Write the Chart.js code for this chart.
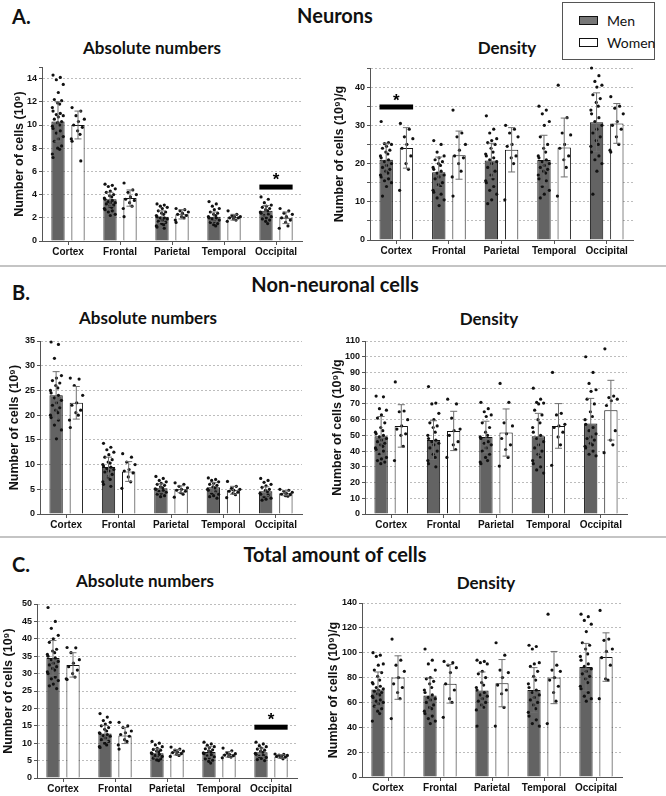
<!DOCTYPE html>
<html>
<head>
<meta charset="utf-8">
<script src="https://cdn.jsdelivr.net/npm/chart.js@4.4.1/dist/chart.umd.min.js"></script>
<style>
  body { margin: 0; width: 666px; height: 796px; position: relative; background: #fff; overflow: hidden; font-family: 'Liberation Sans', Arial, sans-serif; }
  .t { position: absolute; font-family: Lato, 'Open Sans', sans-serif; font-weight: 700; color: #111; white-space: nowrap; transform: translate(-50%, -50%); }
  .lbl { position: absolute; font-family: Lato, 'Open Sans', sans-serif; font-weight: 700; font-size: 20px; color: #111; transform: translateY(-50%); }
  .sep { position: absolute; left: 0; width: 666px; height: 2px; background: #c4c4c4; }
  canvas { position: absolute; }
  #legend { position: absolute; left: 562px; top: 2px; width: 93px; height: 58px; border: 1px solid #555; box-sizing: border-box; font-family: Lato, 'Open Sans', sans-serif; font-size: 14px; color: #111; }
  #legend .row { position: absolute; left: 16px; display: flex; align-items: center; }
  #legend .sw { width: 17px; height: 7px; border: 1.5px solid #111; margin-right: 9px; }
</style>
</head>
<body>

<div class="lbl" style="left:12px;top:16px">A.</div>
<div class="t" style="left:335px;top:15px;font-size:20px">Neurons</div>
<div class="t" style="left:152px;top:47px;font-size:17px">Absolute numbers</div>
<div class="t" style="left:507px;top:47px;font-size:17px">Density</div>

<div class="sep" style="top:265px"></div>

<div class="lbl" style="left:12px;top:292px">B.</div>
<div class="t" style="left:335px;top:284px;font-size:20px">Non-neuronal cells</div>
<div class="t" style="left:148px;top:317px;font-size:17px">Absolute numbers</div>
<div class="t" style="left:489px;top:318px;font-size:17px">Density</div>

<div class="sep" style="top:536px"></div>

<div class="lbl" style="left:12px;top:564px">C.</div>
<div class="t" style="left:335px;top:554px;font-size:20px">Total amount of cells</div>
<div class="t" style="left:145px;top:580px;font-size:17px">Absolute numbers</div>
<div class="t" style="left:486px;top:582px;font-size:17px">Density</div>

<div id="legend">
  <div class="row" style="top:9px"><div class="sw" style="background:#777"></div>Men</div>
  <div class="row" style="top:31px"><div class="sw" style="background:#fff"></div>Women</div>
</div>

<canvas id="aL" width="302" height="200" style="left:4px;top:59px"></canvas>
<canvas id="aR" width="305" height="198" style="left:332px;top:60px"></canvas>
<canvas id="bL" width="304" height="199" style="left:2px;top:333px"></canvas>
<canvas id="bR" width="304" height="199" style="left:327px;top:333px"></canvas>
<canvas id="cL" width="301" height="200" style="left:0px;top:596px"></canvas>
<canvas id="cR" width="301" height="200" style="left:325px;top:595px"></canvas>

<script>
// Regions (x axis categories)
const categories = ['Cortex', 'Frontal', 'Parietal', 'Temporal', 'Occipital'];

// ---- A. Neurons, absolute numbers (10^9) ----
const neuAbsMen = [10.3, 3.6, 2.1, 2.1, 2.6];
const neuAbsMenSd = [1.7, 0.6, 0.5, 0.4, 0.45];
const neuAbsWomen = [10.0, 3.7, 2.3, 2.05, 2.0];
const neuAbsWomenSd = [1.2, 0.7, 0.4, 0.25, 0.5];
const neuAbsMenDots = [
  [14.3, 14.1, 13.9, 13.5, 12.8, 12.2, 12.1, 11.9, 11.8, 11.5, 11.2, 11.0, 10.9, 10.8, 10.7, 10.5, 10.3, 10.2, 10.0, 9.9, 9.7, 9.5, 9.3, 9.0, 8.8, 8.6, 8.2, 8.0, 7.9, 7.5, 7.2],
  [4.9, 4.8, 4.7, 4.5, 4.3, 4.2, 4.0, 3.9, 3.8, 3.7, 3.6, 3.5, 3.4, 3.3, 3.3, 3.2, 3.1, 3.0, 2.9, 2.8, 2.7, 2.6, 2.5, 2.3, 2.2],
  [3.2, 3.1, 3.0, 2.9, 2.8, 2.6, 2.5, 2.4, 2.3, 2.2, 2.1, 2.0, 2.0, 1.9, 1.8, 1.7, 1.6, 1.5, 1.4, 1.3, 1.2, 1.1],
  [3.4, 3.2, 3.0, 2.8, 2.7, 2.5, 2.4, 2.3, 2.2, 2.1, 2.0, 2.0, 1.9, 1.8, 1.7, 1.6, 1.5, 1.4, 1.3],
  [3.8, 3.6, 3.3, 3.1, 3.0, 2.9, 2.8, 2.7, 2.6, 2.5, 2.4, 2.3, 2.2, 2.1, 2.0, 1.9, 1.8, 1.7, 1.5]
];
const neuAbsWomenDots = [
  [11.5, 11.2, 10.8, 10.5, 10.3, 10.0, 9.8, 9.5, 9.2, 8.8, 8.6, 6.9],
  [5.0, 4.4, 4.2, 4.0, 3.8, 3.6, 3.5, 3.3, 3.0, 2.8, 2.1],
  [2.8, 2.7, 2.6, 2.5, 2.4, 2.3, 2.2, 2.1, 2.0, 1.8, 1.6],
  [2.6, 2.3, 2.2, 2.1, 2.1, 2.0, 2.0, 1.9, 1.8, 1.7],
  [2.8, 2.6, 2.4, 2.3, 2.1, 2.0, 1.8, 1.6, 1.3, 1.1]
];
const neuAbsSig = [{ cat: 4, bar: 4.65, star: 5.5 }];

// ---- A. Neurons, density (10^9/g) ----
const neuDenMen = [21.0, 17.7, 20.8, 20.9, 30.8];
const neuDenMenSd = [4.3, 4.0, 4.5, 6.5, 7.7];
const neuDenWomen = [24.1, 22.2, 23.6, 24.2, 30.5];
const neuDenWomenSd = [5.3, 6.3, 5.8, 7.7, 5.2];
const neuDenMenDots = [
  [31, 25.5, 25.2, 25, 24.5, 24, 23.5, 23, 22.5, 22, 21.5, 21, 20.5, 20, 19.5, 19, 18.5, 18, 17.5, 17, 16.5, 16, 15.5, 15, 14, 11.5],
  [26, 25, 23, 22, 21.5, 21, 20.5, 20, 19.5, 19, 18.5, 18, 17.5, 17, 16.5, 16, 15, 14.5, 14, 13, 12.5, 12, 11, 10.5, 9],
  [32.5, 29, 28, 26.5, 26, 25.5, 25, 24, 23, 22.5, 22, 21.5, 21, 20.5, 20, 19, 18, 17, 16, 15.5, 15, 14, 13, 12, 10.5, 9.5],
  [35, 34, 33, 31, 30, 27, 25, 24, 23, 22, 21.5, 21, 20.5, 20, 19.5, 19, 18.5, 18, 17.5, 17, 16, 15.5, 14, 13, 12, 11],
  [45, 43, 41.5, 40.5, 40, 38, 37, 36, 35, 34, 33, 32, 31, 30, 29, 28, 27, 26, 25, 24.5, 23, 22, 21, 20, 18, 12]
];
const neuDenWomenDots = [
  [30.5, 29, 27, 26.5, 25, 24, 22, 20, 18.5, 13],
  [34, 28, 27, 25, 23.5, 22, 21.5, 20, 18, 16.5, 11.5],
  [30, 29, 28, 27, 25, 24.5, 22, 21.5, 20, 10.5],
  [40.5, 32, 28, 27.5, 25, 24, 22, 21, 19, 11.5],
  [37.5, 35, 34.5, 33, 31, 30, 29, 27, 25, 23.5, 23]
];
const neuDenSig = [{ cat: 0, bar: 34.8, star: 37.2 }];

// ---- B. Non-neuronal cells, absolute numbers (10^9) ----
const nonAbsMen = [24.0, 9.5, 5.2, 5.4, 4.6];
const nonAbsMenSd = [4.8, 2.0, 0.9, 1.0, 0.9];
const nonAbsWomen = [22.5, 8.6, 5.0, 4.8, 4.2];
const nonAbsWomenSd = [3.3, 2.0, 0.7, 0.8, 0.5];
const nonAbsMenDots = [
  [34.8, 34.3, 31.5, 28, 27.5, 27, 26.5, 26, 25.5, 25, 24.5, 24, 23.5, 23, 22.5, 22, 21.5, 21, 20.5, 20, 19.5, 19, 18, 17, 15.2],
  [14.3, 13.5, 13, 12.5, 12, 11.5, 11, 10.5, 10.3, 10, 9.7, 9.5, 9.2, 9, 8.7, 8.5, 8, 7.5, 7, 6.5, 6, 5.6],
  [7.6, 7.2, 6.8, 6.5, 6.2, 6.0, 5.8, 5.5, 5.3, 5.1, 5.0, 4.8, 4.6, 4.4, 4.2, 4.0, 3.7, 3.5],
  [7.3, 7.0, 6.8, 6.5, 6.2, 6.0, 5.8, 5.5, 5.3, 5.0, 4.8, 4.5, 4.2, 4.0, 3.7, 3.5, 3.2],
  [7.2, 6.8, 6.4, 6.0, 5.7, 5.4, 5.0, 4.8, 4.5, 4.2, 4.0, 3.8, 3.5, 3.2, 3.0, 2.8]
];
const nonAbsWomenDots = [
  [27.5, 27.3, 26, 24, 22.5, 22, 21, 20.5, 20, 19, 17.5],
  [12.2, 11.5, 10.5, 10, 9, 8.7, 8.3, 7.5, 6.5, 5.2],
  [6.3, 6.0, 5.6, 5.3, 5.0, 4.8, 4.6, 4.3, 4.0, 3.4],
  [6.6, 5.6, 5.2, 5.0, 4.8, 4.6, 4.4, 4.2, 3.9, 3.3],
  [5.0, 4.8, 4.6, 4.4, 4.2, 4.0, 3.9, 3.7, 3.6]
];

// ---- B. Non-neuronal cells, density (10^9/g) ----
const nonDenMen = [49.5, 47, 49, 49.5, 57.5];
const nonDenMenSd = [12.5, 12.3, 10, 14.5, 16];
const nonDenWomen = [56, 52.8, 51.8, 56, 66];
const nonDenWomenSd = [13.5, 12.5, 15, 14.2, 19];
const nonDenMenDots = [
  [75, 74.5, 67, 66, 63, 61, 58, 55, 53, 52, 51, 50, 49, 48, 47, 46, 45, 44, 43, 42, 41, 40, 38, 36, 35, 34, 33, 32],
  [81, 70.5, 70, 64, 60, 58, 56, 55, 52, 50, 48, 47, 46, 45, 44, 42, 40, 38, 36, 34, 32, 30],
  [71, 67, 65, 63, 62, 58, 55, 52, 50, 49, 48, 46, 45, 44, 42, 40, 38, 36, 34, 33, 32],
  [80, 73, 71, 70.5, 70, 66, 63, 60, 58, 55, 52, 50, 48, 46, 44, 42, 40, 38, 36, 34, 32, 30, 28, 26],
  [100, 90, 83, 79, 78, 73, 70, 65, 62, 60, 57, 55, 53, 51, 49, 48, 47, 45, 44, 43, 42, 40, 38, 37]
];
const nonDenWomenDots = [
  [84, 65.5, 65, 60, 56, 54, 51, 50, 43, 34],
  [73, 70, 61, 54, 53, 50, 46, 44, 41, 36],
  [83, 71, 58, 56, 51, 48, 44, 41, 36, 30.5],
  [90, 64, 63, 57, 56, 55, 52, 49, 44, 31],
  [105, 75, 74, 73, 72, 69, 53, 47, 44, 39]
];

// ---- C. Total amount of cells, absolute numbers (10^9) ----
const totAbsMen = [34.5, 12.8, 7.1, 7.5, 7.4];
const totAbsMenSd = [5.0, 2.3, 1.3, 1.5, 1.2];
const totAbsWomen = [32.5, 12.2, 7.4, 6.8, 6.2];
const totAbsWomenSd = [3.5, 2.3, 0.8, 0.8, 0.5];
const totAbsMenDots = [
  [49, 45, 43, 41, 40, 39, 37, 36.5, 36, 35.5, 35, 34.5, 34, 33.5, 33, 32.5, 32, 31.5, 31, 30.5, 30, 29, 28.5, 28, 27, 26.5, 25.7],
  [18.5, 17.5, 16.5, 16, 15.5, 15, 14.5, 14, 13.5, 13, 12.8, 12.5, 12.2, 12, 11.5, 11, 10.5, 10, 9.5, 9, 8.8],
  [10.5, 10, 9.5, 9, 8.5, 8.2, 8, 7.7, 7.5, 7.2, 7, 6.8, 6.5, 6.2, 6, 5.7, 5.5, 5.2, 5],
  [10.3, 9.8, 9.4, 9, 8.7, 8.4, 8.1, 7.8, 7.5, 7.2, 7, 6.7, 6.4, 6.1, 5.8, 5.5, 5.1, 4.8, 4.3],
  [10.3, 9.8, 9.3, 9, 8.6, 8.3, 8, 7.7, 7.4, 7.1, 6.8, 6.5, 6.2, 5.9, 5.6, 5.3, 5]
];
const totAbsWomenDots = [
  [37.5, 37.4, 36, 34, 33, 32, 31, 30, 29, 28.5, 28.3],
  [16, 15, 14.5, 13.5, 13, 12.5, 12, 11, 10.5, 9.5, 8.3],
  [8.9, 8.3, 8, 7.7, 7.5, 7.3, 7, 6.8, 6.5, 6.2],
  [8.6, 7.8, 7.3, 7, 6.8, 6.6, 6.4, 6.2, 6, 5.8],
  [6.9, 6.8, 6.6, 6.5, 6.3, 6.2, 6.0, 5.9, 5.5]
];
const totAbsSig = [{ cat: 4, bar: 14.6, star: 17.3 }];

// ---- C. Total amount of cells, density (10^9/g) ----
const totDenMen = [70.5, 65.5, 69.5, 70, 88.5];
const totDenMenSd = [14, 14, 15, 18, 19];
const totDenWomen = [80, 75, 75.5, 80, 96.5];
const totDenWomenSd = [17.5, 15.5, 19, 21, 19.5];
const totDenMenDots = [
  [100, 98, 97, 91, 90, 86, 84, 81, 78, 76, 75, 73, 72, 71, 70, 69, 68, 67, 66, 65, 64, 62, 61, 60, 59, 57, 55, 53, 51, 45],
  [103, 94, 91, 86, 80, 79, 77, 75, 72, 70, 68, 66, 64, 63, 62, 60, 58, 56, 55, 53, 51, 49, 47, 45, 43],
  [94, 93, 92, 91, 85, 83, 80, 76, 74, 72, 70, 68, 66, 65, 63, 61, 60, 58, 56, 54, 41],
  [106, 105, 103, 92, 91, 89, 85, 81, 78, 75, 72, 70, 68, 66, 64, 62, 60, 58, 55, 52, 49, 46, 43, 41],
  [131, 129, 126, 123, 117, 108, 106, 103, 99, 97, 94, 91, 89, 87, 85, 83, 81, 79, 76, 73, 71, 68, 65, 63, 61]
];
const totDenWomenDots = [
  [111, 94, 90, 85, 80, 75, 72, 68, 63, 47],
  [93, 92, 90, 88, 84, 75, 70, 63, 60, 48],
  [108, 98, 86, 84, 80, 74, 70, 67, 56, 41],
  [131, 90, 86, 85, 80, 78, 73, 68, 61, 43],
  [134, 111, 110, 103, 101, 96, 90, 79, 78, 63]
];

// axis ranges: [max, grid step, label step]
const neuAbsAxis = [15, 2, 2];
const neuDenAxis = [45, 5, 10];
const nonAbsAxis = [35, 5, 5];
const nonDenAxis = [110, 10, 10];
const totAbsAxis = [50, 5, 5];
const totDenAxis = [140, 10, 10];

const absTitle = 'Number of cells (10⁹)';
const denTitle = 'Number of cells (10⁹)/g';

// horizontal spread of the dots inside a bar
const spread = [-0.75, 0.35, -0.25, 0.8, 0.05, -0.55, 0.55, -0.05, 0.25, -0.85];

const barExtras = {
  id: 'barExtras',
  afterDatasetsDraw(chart, args, opts) {
    const ctx = chart.ctx;
    const y = chart.scales.y;
    const groups = [
      { meta: chart.getDatasetMeta(0), mean: opts.menMean, sd: opts.menSd, dots: opts.menDots, w: 0.5 },
      { meta: chart.getDatasetMeta(1), mean: opts.womenMean, sd: opts.womenSd, dots: opts.womenDots, w: 0.6 }
    ];
    ctx.save();
    groups.forEach(g => {
      g.meta.data.forEach((bar, i) => {
        const half = bar.width * g.w;
        // dots
        ctx.fillStyle = '#111';
        g.dots[i].forEach((v, k) => {
          ctx.beginPath();
          ctx.arc(bar.x + spread[k % spread.length] * half, y.getPixelForValue(v), 1.6, 0, Math.PI * 2);
          ctx.fill();
        });
        // error bar (mean +/- SD)
        const top = y.getPixelForValue(g.mean[i] + g.sd[i]);
        const bot = y.getPixelForValue(Math.max(0, g.mean[i] - g.sd[i]));
        ctx.strokeStyle = '#6f6f6f';
        ctx.lineWidth = 1;
        ctx.beginPath();
        ctx.moveTo(bar.x, top); ctx.lineTo(bar.x, bot);
        ctx.moveTo(bar.x - 3.5, top); ctx.lineTo(bar.x + 3.5, top);
        ctx.moveTo(bar.x - 3.5, bot); ctx.lineTo(bar.x + 3.5, bot);
        ctx.stroke();
      });
    });
    // significance bars
    (opts.sig || []).forEach(s => {
      const m = chart.getDatasetMeta(0).data[s.cat];
      const w = chart.getDatasetMeta(1).data[s.cat];
      const x0 = m.x - m.width / 2, x1 = w.x + w.width / 2;
      const yb = y.getPixelForValue(s.bar);
      ctx.fillStyle = '#000';
      ctx.fillRect(x0, yb - 2.5, x1 - x0, 5);
      ctx.font = 'bold 17px "Liberation Sans", Arial, sans-serif';
      ctx.textAlign = 'center';
      ctx.textBaseline = 'middle';
      ctx.fillText('*', (x0 + x1) / 2, y.getPixelForValue(s.star) + 3);
    });
    ctx.restore();
  }
};

function makeChart(id, menMean, menSd, womenMean, womenSd, menDots, womenDots, axis, title, yWidth, titlePad, sig) {
  const [max, step, labelStep] = axis;
  new Chart(document.getElementById(id), {
    type: 'bar',
    data: {
      labels: categories,
      datasets: [
        { label: 'Men', data: menMean, backgroundColor: '#636363', borderColor: '#111', borderWidth: 1 },
        { label: 'Women', data: womenMean, backgroundColor: '#ffffff', borderColor: '#111', borderWidth: 1 }
      ]
    },
    options: {
      responsive: false,
      animation: false,
      events: [],
      categoryPercentage: 0.77,
      barPercentage: 0.66,
      layout: { padding: { top: 8, right: 4, left: 0, bottom: 0 } },
      plugins: {
        legend: { display: false },
        tooltip: { enabled: false },
        barExtras: { menMean, menSd, womenMean, womenSd, menDots, womenDots, sig }
      },
      scales: {
        x: {
          grid: { drawOnChartArea: false, offset: false, tickLength: 4, color: '#555' },
          border: { color: '#555' },
          ticks: { color: '#111', padding: 1, font: { family: 'Liberation Sans', size: 10, weight: 'bold' } },
          afterFit: s => { s.height = 18; }
        },
        y: {
          min: 0,
          max: max,
          ticks: {
            stepSize: step,
            color: '#111',
            padding: 2,
            font: { family: 'Liberation Sans', size: 9, weight: 'bold' },
            callback: v => (v % labelStep === 0 ? v : '')
          },
          grid: {
            color: c => (c.tick && c.tick.value !== 0 && c.tick.value % step === 0 ? '#bdbdbd' : 'rgba(0,0,0,0)'),
            tickColor: '#555',
            tickLength: 3,
            tickBorderDash: []
          },
          border: { color: '#555', dash: [2, 2] },
          title: {
            display: true,
            text: title,
            color: '#111',
            padding: { top: titlePad, bottom: 2 },
            font: { family: 'Liberation Sans', size: 12.5, weight: 'bold' }
          },
          afterFit: s => { s.width = yWidth; }
        }
      }
    },
    plugins: [barExtras]
  });
}

makeChart('aL', neuAbsMen, neuAbsMenSd, neuAbsWomen, neuAbsWomenSd, neuAbsMenDots, neuAbsWomenDots, neuAbsAxis, absTitle, 38, 8, neuAbsSig);
makeChart('aR', neuDenMen, neuDenMenSd, neuDenWomen, neuDenWomenSd, neuDenMenDots, neuDenWomenDots, neuDenAxis, denTitle, 38, 0, neuDenSig);
makeChart('bL', nonAbsMen, nonAbsMenSd, nonAbsWomen, nonAbsWomenSd, nonAbsMenDots, nonAbsWomenDots, nonAbsAxis, absTitle, 38, 5, []);
makeChart('bR', nonDenMen, nonDenMenSd, nonDenWomen, nonDenWomenSd, nonDenMenDots, nonDenWomenDots, nonDenAxis, denTitle, 38, 3, []);
makeChart('cL', totAbsMen, totAbsMenSd, totAbsWomen, totAbsWomenSd, totAbsMenDots, totAbsWomenDots, totAbsAxis, absTitle, 37, 1, totAbsSig);
makeChart('cR', totDenMen, totDenMenSd, totDenWomen, totDenWomenSd, totDenMenDots, totDenWomenDots, totDenAxis, denTitle, 37, 1, []);
</script>
</body>
</html>
